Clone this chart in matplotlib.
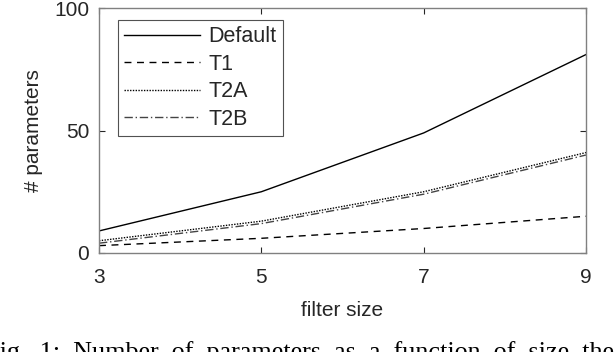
import matplotlib
matplotlib.use("Agg")
import matplotlib.pyplot as plt

filter_size = [3, 5, 7, 9]
default_params = [9, 25, 49, 81]
t1_params = [3, 6, 10, 15]
t2a_params = [5, 13, 25, 41]
t2b_params = [4, 12, 24, 40]
x_ticks = [3, 5, 7, 9]
y_ticks = [0, 50, 100]
caption = 'Fig.  1:  Number  of  parameters  as  a  function  of  size  the'

plt.rcParams['font.family'] = ['Liberation Sans', 'DejaVu Sans']

fig = plt.figure(figsize=(6.14, 3.52), dpi=100)
ax = fig.add_axes([99/614, 1-253/352, (586-99)/614, (253-8)/352])

ax.plot(filter_size, default_params, color='black', lw=1.0, ls='-', label='Default')
ax.plot(filter_size, t1_params, color='black', lw=1.0, ls=(0, (5, 4)), label='T1')
ax.plot(filter_size, t2a_params, color='black', lw=1.0, ls=(0, (1, 1)), label='T2A')
ax.plot(filter_size, t2b_params, color='#444444', lw=1.0, ls=(0, (6, 2, 1, 2)), label='T2B')

ax.set_xlim(3, 9)
ax.set_ylim(0, 100)
ax.set_xticks(x_ticks)
ax.set_yticks(y_ticks)
ax.tick_params(direction='in', top=True, right=True, length=4, width=0.8,
               color='#262626', labelsize=15, labelcolor='#262626')
ax.tick_params(axis='x', pad=11)
ax.tick_params(axis='y', pad=7)
for s in ax.spines.values():
    s.set_color('#808080')
    s.set_linewidth(1.0)

ax.set_xlabel('filter size', fontsize=15, color='#262626', labelpad=10)
ax.set_ylabel('# parameters', fontsize=15, color='#262626', labelpad=8)

leg = ax.legend(loc='upper left', bbox_to_anchor=(0.039, 0.951), fontsize=15.5,
                frameon=True, fancybox=False, edgecolor='#262626',
                handlelength=3.5, handletextpad=0.4, labelspacing=0.3,
                borderpad=0.3, borderaxespad=0)
leg.get_frame().set_linewidth(0.8)
for t in leg.get_texts():
    t.set_color('#262626')

fig.text(-0.025, -0.02, caption,
         fontsize=18.8, family=['Liberation Serif'], va='baseline', ha='left', color='black')

fig.savefig('out.png', dpi=100)
